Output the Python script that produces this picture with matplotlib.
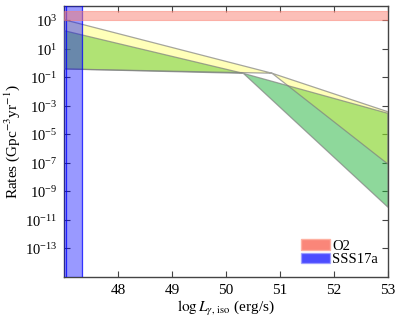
import numpy as np
import matplotlib
matplotlib.use('Agg')
import matplotlib.pyplot as plt
from matplotlib.patches import Patch
from matplotlib.ticker import FixedLocator, FuncFormatter, NullLocator

plt.rcParams['font.family'] = ['Liberation Serif', 'DejaVu Serif']
plt.rcParams['mathtext.fontset'] = 'stix'

# log10 luminosity (erg/s) and log10 rate (Gpc^-3 yr^-1) of the band corners
yellow_logL = [47.0, 50.85, 53.0]
yellow_upper = [3.05, -0.71, -3.42]
yellow_lower = [-0.41, -0.71, -7.1]

green_logL = [47.0, 50.32, 53.0]
green_upper = [2.28, -0.72, -3.53]
green_lower = [-0.41, -0.72, -10.13]

# O2 rate band and SSS17a luminosity band
o2_rate = [1.0e3, 4.8e3]
sss17a_logL = [47.04, 47.33]

x_ticks = [48, 49, 50, 51, 52, 53]
y_tick_exps = [-13, -11, -9, -7, -5, -3, -1, 1, 3]

fig = plt.figure(figsize=(4.03, 3.24), dpi=100)
ax = fig.add_axes([0.159, 0.146, 0.804, 0.835])

ax.fill_between(green_logL, 10.0 ** np.array(green_lower), 10.0 ** np.array(green_upper),
                facecolor=(0.12, 0.70, 0.22), alpha=0.5, edgecolor='none', zorder=2)
ax.fill_between(green_logL, 10.0 ** np.array(green_lower), 10.0 ** np.array(green_upper),
                facecolor='none', edgecolor='gray', lw=0.9, alpha=0.7, zorder=3)
ax.fill_between(yellow_logL, 10.0 ** np.array(yellow_lower), 10.0 ** np.array(yellow_upper),
                facecolor=(1.0, 1.0, 0.1), alpha=0.3, edgecolor='none', zorder=2)
ax.fill_between(yellow_logL, 10.0 ** np.array(yellow_lower), 10.0 ** np.array(yellow_upper),
                facecolor='none', edgecolor='gray', lw=0.9, alpha=0.7, zorder=3)

ax.axvspan(46.9, sss17a_logL[1], color='blue', alpha=0.4, lw=0, zorder=4)
for xv in sss17a_logL:
    ax.axvline(xv, color='blue', lw=0.9, alpha=0.8, zorder=4)
ax.axhspan(o2_rate[0], o2_rate[1], facecolor='salmon', edgecolor='salmon', alpha=0.5, lw=0.8, zorder=5)

ax.set_yscale('log')
ax.set_xlim(47, 53)
ax.set_ylim(1e-15, 1e4)
ax.xaxis.set_major_locator(FixedLocator(x_ticks))
ax.yaxis.set_major_locator(FixedLocator([10.0 ** e for e in y_tick_exps]))
ax.yaxis.set_minor_locator(NullLocator())
ax.yaxis.set_major_formatter(FuncFormatter(
    lambda v, pos: r'10$^{\mathregular{%d}}$' % int(round(np.log10(v)))))

ax.tick_params(direction='in', top=True, right=True, length=4, width=0.8, color='#444444')
ax.tick_params(axis='x', labelsize=11, pad=5)
ax.tick_params(axis='y', labelsize=10.5, pad=5)
for sp in ax.spines.values():
    sp.set_color('#444444')
    sp.set_linewidth(1.0)

ax.set_xlabel(r'$\log L_{\gamma,\,\mathrm{iso}}$ (erg/s)', fontsize=11, labelpad=2)
ax.set_ylabel(r'Rates (Gpc$^{-3}$yr$^{-1}$)', fontsize=11, labelpad=2)

handles = [Patch(facecolor='salmon', edgecolor='#ffb0a0', alpha=0.95, lw=1),
           Patch(facecolor='blue', edgecolor='#9999ff', alpha=0.7, lw=1)]
ax.legend(handles, ['O2', 'SSS17a'], loc='lower right', frameon=False, fontsize=10.5,
          handlelength=2.0, handleheight=0.7, handletextpad=0.15, labelspacing=0.05,
          borderaxespad=0.3)

fig.savefig('out.png', dpi=100)
